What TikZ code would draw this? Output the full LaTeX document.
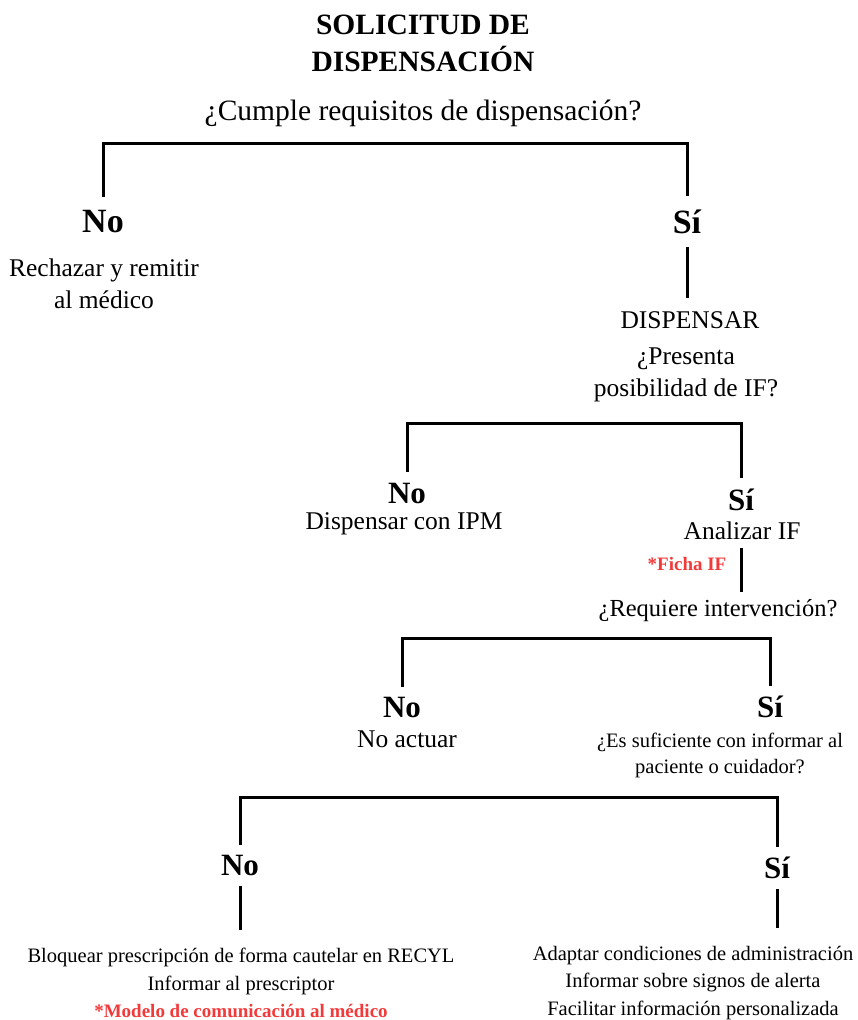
\documentclass[tikz,border=0pt]{standalone}
\usepackage{fontspec}
\setmainfont{Liberation Serif}
\usetikzlibrary{positioning}
\definecolor{ifred}{HTML}{F23A3A}

\begin{document}
\begin{tikzpicture}[x=1pt,y=-1pt,
  every node/.style={inner sep=0pt},
  title/.style={font=\fontsize{29.5}{37}\selectfont\bfseries, align=center},
  ask/.style={font=\fontsize{25.5}{31.5}\selectfont, align=center},
  answer/.style={font=\fontsize{31}{34}\selectfont\bfseries},
  bigans/.style={font=\fontsize{34}{36}\selectfont\bfseries},
  small/.style={font=\fontsize{20.5}{27.5}\selectfont, align=center},
  note/.style={font=\fontsize{19}{24}\selectfont\bfseries, text=ifred},
  link/.style={line width=3pt, shorten <=#1, shorten >=#1},
  link/.default=12pt,
]
\useasboundingbox (0,0) rectangle (858,1020);
% title and first question
\node[title] (title) at (423,43) {SOLICITUD DE\\DISPENSACIÓN};
\node[ask, font=\fontsize{29.5}{34}\selectfont] (cumple) at (423,113) {¿Cumple requisitos de dispensación?};
% level 1
\node[bigans] (no1) at (103,222) {No};
\node[bigans] (si1) at (687,222) {Sí};
\node[ask] (rechazar) at (104,284) {Rechazar y remitir\\al médico};
\node[ask] (dispensar) at (690,320) {DISPENSAR};
\node[ask, font=\fontsize{25.5}{32}\selectfont] (presenta) at (686,375) {¿Presenta\\posibilidad de IF?};
\coordinate (b1) at (394,143);
\draw[link=14pt] (no1.north) |- (b1) -| (si1.north);
\draw[link=13pt] (si1.south) -- (si1.south |- dispensar.north);
% level 2
\node[answer] (no2) at (407,493) {No};
\node[answer] (si2) at (741,500) {Sí};
\node[ask] (ipm) at (404,524) {Dispensar con IPM};
\node[ask] (analizar) at (742,531) {Analizar IF};
\node[note] (ficha) at (687,564) {*Ficha IF};
\node[ask, font=\fontsize{24.5}{30}\selectfont] (requiere) at (718,611) {¿Requiere intervención?};
\coordinate (b2) at (574,423);
\draw[link=11pt] (no2.north) |- (b2) -| (si2.north);
\draw[link=8pt] (analizar.south -| si2) -- (si2 |- requiere.north);
% level 3
\node[answer] (no3) at (402,707) {No};
\node[answer] (si3) at (770,707) {Sí};
\node[ask] (noactuar) at (407,739) {No actuar};
\node[small, font=\fontsize{20.5}{26}\selectfont] (suficiente) at (720,755) {¿Es suficiente con informar al\\paciente o cuidador?};
\coordinate (b3) at (586,638);
\draw[link=10pt] (no3.north) |- (b3) -| (si3.north);
% level 4
\node[answer] (no4) at (240,865) {No};
\node[answer] (si4) at (777,868) {Sí};
\node[small] (bloquear) at (241,983) {Bloquear prescripción de forma cautelar en RECYL\\Informar al prescriptor\\{\color{ifred}\bfseries\fontsize{19}{27.5}\selectfont *Modelo de comunicación al médico}};
\node[small] (adaptar) at (693,983) {Adaptar condiciones de administración\\Informar sobre signos de alerta\\Facilitar información personalizada};
\coordinate (b4) at (508,797);
\draw[link=10pt] (no4.north) |- (b4) -| (si4.north);
\draw[link=10pt, shorten >=18pt] (no4.south) -- (no4.south |- bloquear.north);
\draw[link=10pt, shorten >=18pt] (si4.south) -- (si4.south |- adaptar.north);
\end{tikzpicture}
\end{document}
